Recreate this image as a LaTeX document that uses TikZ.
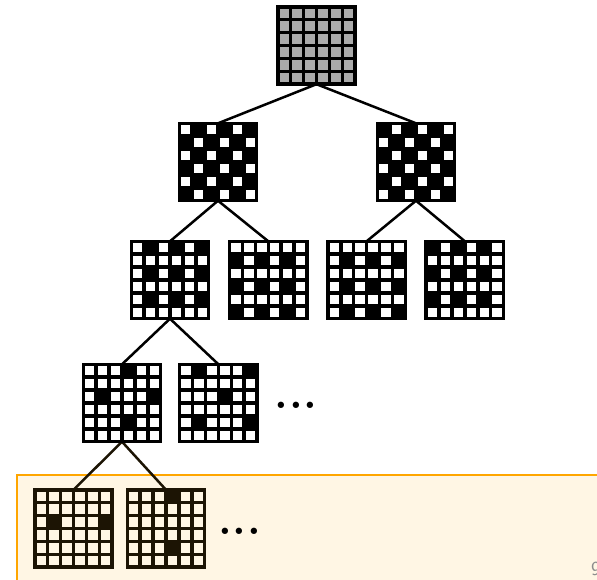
\documentclass[tikz,border=0pt]{standalone}
\usepackage{fontspec}
\usetikzlibrary{positioning, calc}

\definecolor{boxedge}{RGB}{255,166,0}
\definecolor{boxfill}{RGB}{255,246,228}
\definecolor{deepink}{RGB}{28,20,4}

\newcommand{\cellsz}{12.9pt}
% cells are given as row/column, counted from the top left corner of the board
\newcommand{\fillcells}[3]{%
  \foreach \r/\c in {#3}
    \fill[#2] ($(#1.north west)+({(\c-1)*\cellsz},{(1-\r)*\cellsz})$)
      rectangle ++(\cellsz,-\cellsz);
}
\newcommand{\boardlines}[2]{%
  \draw[cellline, #2, shift={(#1.north west)}]
    (0,0) grid[step=\cellsz] (77.4pt,-77.4pt) (0,0) rectangle (77.4pt,-77.4pt);
}
\newcommand{\moredots}{.\kern1pt.\kern1pt.}

\begin{document}
\begin{tikzpicture}[
  board/.style={minimum size=77.4pt, inner sep=0pt, outer sep=0pt},
  cellline/.style={line width=3.5pt},
  link/.style={line width=2.5pt},
  dots/.style={inner sep=0pt, anchor=west, font=\fontsize{44}{44}\selectfont\bfseries}
]
\useasboundingbox (0,0) rectangle (597pt,-580pt);
\fill[white] (0,0) rectangle (597pt,-580pt);
\clip (0,0) rectangle (597pt,-580pt);

% the highlight band runs off the right and bottom edges of the page
\filldraw[fill=boxfill, draw=boxedge, line width=2.7pt] (17pt,-475pt) rectangle (620pt,-600pt);

\node[board] (root) at (316.5pt,-45.5pt) {};
\node[board] (l2a) at (218pt,-162pt) {};
\node[board, right=120.6pt of l2a] (l2b) {};
\node[board] (l3a) at (170pt,-280pt) {};
\node[board, right=20.9pt of l3a] (l3b) {};
\node[board, right=20.9pt of l3b] (l3c) {};
\node[board, right=20.9pt of l3c] (l3d) {};
\node[board] (l4a) at (122pt,-403pt) {};
\node[board, right=19pt of l4a] (l4b) {};
\node[dots, right=17pt of l4b, yshift=-2pt] (more4) {\moredots};
\node[board] (l5a) at (73.5pt,-528.5pt) {};
\node[board, right=15.1pt of l5a] (l5b) {};
\node[dots, right=13.3pt of l5b, yshift=-2.5pt] (more5) {\moredots};
\node[anchor=base west, inner sep=0pt, text=black!45, font=\sffamily\fontsize{20}{20}\selectfont]
  (page) at (591pt,-575pt) {9};

\draw[link] (root.south) -- (l2a.north);
\draw[link] (root.south) -- (l2b.north);
\draw[link] (l2a.south) -- (l3a.north);
\draw[link] (l2a.south) -- (l3b.north);
\draw[link] (l2b.south) -- (l3c.north);
\draw[link] (l2b.south) -- (l3d.north);
\draw[link] (l3a.south) -- (l4a.north);
\draw[link] (l3a.south) -- (l4b.north);
\draw[link, deepink] (l4a.south) -- (l5a.north);
\draw[link, deepink] (l4a.south) -- (l5b.north);

\fill[black!33] (root.north west) rectangle (root.south east);
\boardlines{root}{black}
\fillcells{l2a}{black}{1/2,1/4,1/6,2/1,2/3,2/5,3/2,3/4,3/6,4/1,4/3,4/5,5/2,5/4,5/6,6/1,6/3,6/5}
\boardlines{l2a}{black}
\fillcells{l2b}{black}{1/1,1/3,1/5,2/2,2/4,2/6,3/1,3/3,3/5,4/2,4/4,4/6,5/1,5/3,5/5,6/2,6/4,6/6}
\boardlines{l2b}{black}
\fillcells{l3a}{black}{1/2,1/4,1/6,3/2,3/4,3/6,5/2,5/4,5/6}
\boardlines{l3a}{black}
\fillcells{l3b}{black}{2/1,2/3,2/5,4/1,4/3,4/5,6/1,6/3,6/5}
\boardlines{l3b}{black}
\fillcells{l3c}{black}{2/2,2/4,2/6,4/2,4/4,4/6,6/2,6/4,6/6}
\boardlines{l3c}{black}
\fillcells{l3d}{black}{1/1,1/3,1/5,3/1,3/3,3/5,5/1,5/3,5/5}
\boardlines{l3d}{black}
\fillcells{l4a}{black}{1/4,3/2,3/6,5/4}
\boardlines{l4a}{black}
\fillcells{l4b}{black}{1/2,1/6,3/4,5/2,5/6}
\boardlines{l4b}{black}
\fillcells{l5a}{deepink}{3/2,3/6}
\boardlines{l5a}{deepink}
\fillcells{l5b}{deepink}{1/4,5/4}
\boardlines{l5b}{deepink}
\end{tikzpicture}
\end{document}
